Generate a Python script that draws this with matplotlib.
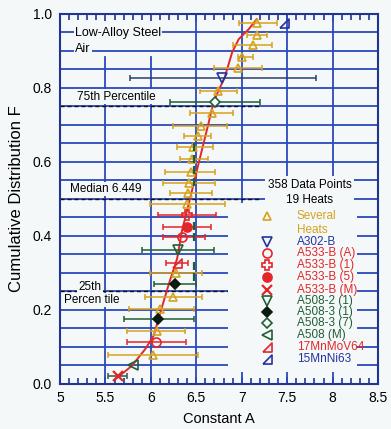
import matplotlib.pyplot as plt
import numpy as np
from matplotlib.ticker import MultipleLocator
from matplotlib.patches import Rectangle

plt.rcParams['font.family'] = ['Liberation Sans', 'DejaVu Sans']

# fitted distribution curve
fit_A = [5.61, 5.79, 5.94, 6.03, 6.11, 6.20, 6.289, 6.344, 6.436, 6.527, 6.63,
         6.692, 6.813, 6.894, 6.967, 7.077, 7.165]
fit_F = [0.013, 0.049, 0.095, 0.130, 0.198, 0.272, 0.339, 0.416, 0.506, 0.598, 0.70,
         0.764, 0.829, 0.896, 0.932, 0.959, 0.986]

# several heats (mean, F, low, high)
sev_A = [7.17, 7.17, 7.12, 7.00, 6.96, 6.74, 6.67, 6.55, 6.52, 6.46, 6.45, 6.44,
         6.42, 6.41, 6.40, 6.28, 6.24, 6.10, 6.07, 6.02]
sev_F = [0.976, 0.943, 0.916, 0.884, 0.854, 0.792, 0.732, 0.697, 0.670, 0.641, 0.608,
         0.573, 0.543, 0.516, 0.486, 0.300, 0.235, 0.203, 0.143, 0.078]
sev_lo = [6.97, 7.06, 6.90, 6.96, 6.69, 6.54, 6.43, 6.24, 6.37, 6.29, 6.32, 6.16,
          6.13, 6.21, 5.99, 5.99, 5.94, 5.76, 5.74, 5.53]
sev_hi = [7.39, 7.28, 7.33, 7.12, 7.22, 6.95, 6.90, 6.84, 6.66, 6.68, 6.63, 6.71,
          6.71, 6.67, 6.82, 6.56, 6.56, 6.47, 6.38, 6.52]

a302_A, a302_F, a302_lo, a302_hi = [6.78], [0.827], [5.77], [7.82]
a533a_A, a533a_F, a533a_lo, a533a_hi = [6.34, 6.056], [0.397, 0.114], [6.13, 5.74], [6.60, 6.39]
a5331_A, a5331_F, a5331_lo, a5331_hi = [6.40], [0.457], [6.08], [6.72]
a5335_A, a5335_F, a5335_lo, a5335_hi = [6.40], [0.424], [6.13], [6.66]
a533m_A, a533m_F, a533m_lo, a533m_hi = [5.64], [0.022], [5.53], [5.74]
a5082_A, a5082_F, a5082_lo, a5082_hi = [6.30], [0.362], [5.90], [6.69]
a5083_A, a5083_F, a5083_lo, a5083_hi = [6.27, 6.08], [0.270, 0.176], [6.03, 5.70], [6.50, 6.47]
a5087_A, a5087_F, a5087_lo, a5087_hi = [6.705], [0.762], [6.21], [7.20]
a508m_A, a508m_F = [5.80], [0.051]
mnmov_A, mnmov_F, mnmov_lo, mnmov_hi = [6.29], [0.327], [6.17], [6.41]
mnni_A, mnni_F = [7.46], [0.976]

# short bars near the median column
tick_A = [6.47, 6.47, 6.47, 6.47, 6.47, 6.47, 6.47, 6.47]
tick_F = [0.641, 0.609, 0.578, 0.546, 0.427, 0.397, 0.320, 0.290]

percentiles = [0.25, 0.5, 0.75]

legend_names = ["A302-B", "A533-B (A)", "A533-B (1)", "A533-B (5)", "A533-B (M)",
                "A508-2 (1)", "A508-3 (1)", "A508-3 (7)", "A508 (M)", "17MnMoV64", "15MnNi63"]

bg = '#f5f8f8'
gold = '#d6a21e'
red = '#e3262a'
green = '#215e35'
blue = '#23339f'
grid_c = '#2b48bd'
rtri = [(-1, -1), (1, -1), (1, 1), (-1, -1)]

fig = plt.figure(figsize=(3.91, 4.29), dpi=100, facecolor=bg)
ax = fig.add_axes([0.1535, 0.1049, 0.8133, 0.8625])
ax.set_facecolor(bg)


def heat(A, F, lo, hi, marker, color, ecolor, fill='none', ms=6, mew=1.2):
    A = np.array(A)
    if lo is not None:
        xerr = [A - np.array(lo), np.array(hi) - A]
        ax.errorbar(A, F, xerr=xerr, fmt='none', ecolor=ecolor, elinewidth=1.1,
                    capsize=2.5, capthick=1.1, zorder=5)
    ax.plot(A, F, ls='none', marker=marker, mfc=fill, mec=color, ms=ms, mew=mew, zorder=5)


# grid
ax.set_xlim(5, 8.5)
ax.set_ylim(0, 1.0)
ax.yaxis.set_major_locator(MultipleLocator(0.2))
ax.yaxis.set_minor_locator(MultipleLocator(0.05))
ax.xaxis.set_major_locator(MultipleLocator(0.5))
ax.xaxis.set_minor_locator(MultipleLocator(0.1))
ax.grid(True, which='both', axis='y', color=grid_c, lw=1.3, zorder=1)
for xv in [5.5, 6.0]:
    ax.axvline(xv, ymax=0.885, color=grid_c, lw=1.3, zorder=1)
for xv in [6.5, 7.0, 7.5, 8.0]:
    ax.axvline(xv, color=grid_c, lw=1.3, zorder=1)
ax.set_axisbelow(True)

for p in percentiles:
    ax.axhline(p, xmax=0.63, color='#111111', lw=1.0, ls=(0, (3, 2)), zorder=2)

ax.plot(fit_A, fit_F, color=red, lw=1.4, zorder=4)

heat(sev_A, sev_F, sev_lo, sev_hi, '^', gold, gold, ms=6)
heat(a302_A, a302_F, a302_lo, a302_hi, 'v', blue, '#2a3f6e', ms=7)
heat(a533a_A, a533a_F, a533a_lo, a533a_hi, 'o', red, red, ms=6.5)
heat(a5331_A, a5331_F, a5331_lo, a5331_hi, 'P', red, red, ms=7)
heat(a5335_A, a5335_F, a5335_lo, a5335_hi, 'o', red, red, fill=red, ms=6.5)
heat(a533m_A, a533m_F, a533m_lo, a533m_hi, 'x', red, '#2e5a44', ms=7, mew=1.6)
heat(a5082_A, a5082_F, a5082_lo, a5082_hi, 'v', green, green, ms=7)
heat(a5083_A, a5083_F, a5083_lo, a5083_hi, 'D', '#0b1a10', green, fill='#0b1a10', ms=5.5)
heat(a5087_A, a5087_F, a5087_lo, a5087_hi, 'D', green, green, fill='white', ms=5.5)
heat(a508m_A, a508m_F, None, None, '<', green, green, ms=7)
heat(mnmov_A, mnmov_F, mnmov_lo, mnmov_hi, rtri, red, red, ms=6.5)
heat(mnni_A, mnni_F, None, None, rtri, blue, blue, ms=6.5)
ax.plot(tick_A, tick_F, ls='none', marker='|', color=green, ms=6, mew=1.6, zorder=5)

# axes styling
for s in ax.spines.values():
    s.set_color('#1f3591')
    s.set_linewidth(1.5)
    s.set_zorder(6)
ax.tick_params(axis='x', which='minor', direction='in', top=True, bottom=True,
               length=4, width=1.2, color='#1f3591')
ax.tick_params(axis='x', which='major', direction='in', top=True, bottom=True,
               length=5, width=1.2, color='#1f3591', labelsize=10, pad=5)
ax.tick_params(axis='y', which='both', length=0, labelsize=10, pad=6)
ax.set_xticks([5, 5.5, 6, 6.5, 7, 7.5, 8, 8.5])
ax.set_xticklabels(['5', '5.5', '6', '6.5', '7', '7.5', '8', '8.5'])
ax.set_yticks([0, 0.2, 0.4, 0.6, 0.8, 1.0])
ax.set_yticklabels(['0.0', '0.2', '0.4', '0.6', '0.8', '1.0'])
ax.set_xlabel('Constant A', fontsize=10.5, labelpad=5)
ax.set_ylabel('Cumulative Distribution F', fontsize=12, labelpad=6)

box = dict(facecolor=bg, edgecolor='none', pad=1.0)
tr = ax.transAxes
ax.text(0.047, 0.949, 'Low-Alloy Steel', transform=tr, fontsize=9, va='center', bbox=box, zorder=7)
ax.text(0.047, 0.905, 'Air', transform=tr, fontsize=9, va='center', bbox=box, zorder=7)
ax.text(0.053, 0.776, '75th Percentile', transform=tr, fontsize=8.5, va='center', bbox=box, zorder=7)
ax.text(0.031, 0.527, 'Median 6.449', transform=tr, fontsize=8.5, va='center', bbox=box, zorder=7)
ax.text(0.057, 0.262, '25th', transform=tr, fontsize=8.5, va='center', bbox=box, zorder=7)
ax.text(0.013, 0.227, 'Percen tile', transform=tr, fontsize=8.5, va='center', bbox=box, zorder=7)

# legend panel
ax.add_patch(Rectangle((0.528, 0.032), 0.406, 0.457, transform=tr, facecolor=bg,
                       edgecolor='none', zorder=6))
ax.add_patch(Rectangle((0.645, 0.489), 0.28, 0.073, transform=tr, facecolor=bg,
                       edgecolor='none', zorder=6))
ax.text(0.786, 0.538, '358 Data Points', transform=tr, fontsize=8.5, ha='center', va='center', zorder=7)
ax.text(0.786, 0.497, '19 Heats', transform=tr, fontsize=8.5, ha='center', va='center', zorder=7)

mx, tx = 0.651, 0.745
rows = [0.384, 0.354, 0.322, 0.289, 0.254, 0.224, 0.195, 0.165, 0.132, 0.100, 0.068]
styles = [('v', blue, 'none', 7), ('o', red, 'none', 6.5), ('P', red, 'none', 7),
          ('o', red, red, 6.5), ('x', red, 'none', 7), ('v', green, 'none', 7),
          ('D', '#0b1a10', '#0b1a10', 5.5), ('D', green, 'none', 5.5),
          ('<', green, 'none', 7), (rtri, red, 'none', 6.5), (rtri, blue, 'none', 6.5)]
text_colors = [blue, red, red, red, red, green, green, green, green, red, blue]

ax.plot([mx], [0.454], transform=tr, marker='^', mfc='none', mec=gold, ms=6, mew=1.2,
        ls='none', zorder=8, clip_on=False)
ax.text(tx, 0.454, 'Several', transform=tr, fontsize=8.5, color=gold, va='center', zorder=8)
ax.text(tx, 0.416, 'Heats', transform=tr, fontsize=8.5, color=gold, va='center', zorder=8)
for name, y, (mk, c, fc, ms), tc in zip(legend_names, rows, styles, text_colors):
    ax.plot([mx], [y], transform=tr, marker=mk, mfc=fc, mec=c, ms=ms,
            mew=1.6 if mk == 'x' else 1.2, ls='none', zorder=8, clip_on=False)
    ax.text(tx, y, name, transform=tr, fontsize=8.5, color=tc, va='center', zorder=8)

fig.savefig('out.png', dpi=100, facecolor=fig.get_facecolor())
